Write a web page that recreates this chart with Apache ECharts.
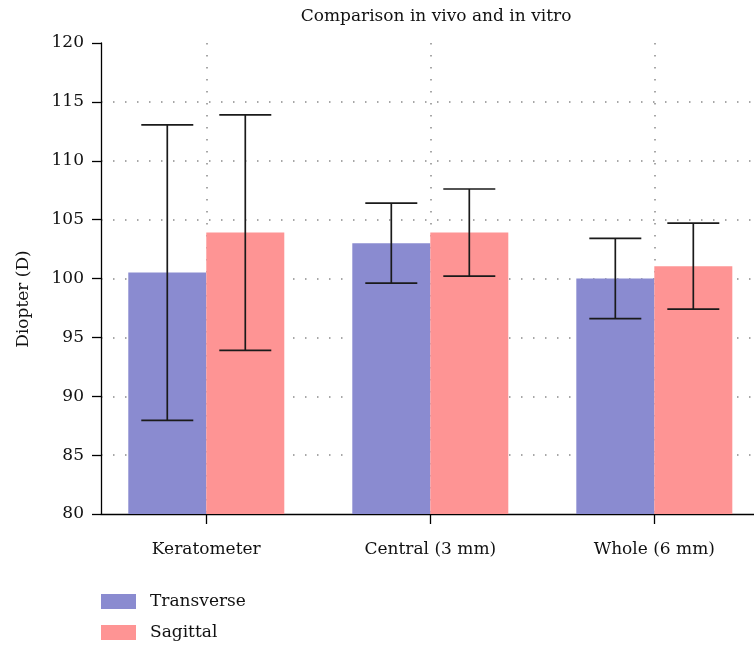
<!DOCTYPE html>
<html>
<head>
<meta charset="utf-8">
<script src="https://cdn.jsdelivr.net/npm/echarts@6/dist/echarts.min.js"></script>
<style>
  html, body { margin: 0; padding: 0; background: #fff; }
  #chart { width: 754px; height: 648px; }
</style>
</head>
<body>
<div id="chart"></div>
<script>
// Refractive power measured three ways, mean ± SD in diopters
const categories = ['Keratometer', 'Central (3 mm)', 'Whole (6 mm)'];
const transverseMean = [100.5, 103.0, 100.0];
const transverseSD = [12.55, 3.4, 3.4];
const sagittalMean = [103.9, 103.9, 101.05];
const sagittalSD = [10.0, 3.7, 3.65];
const yTicks = [80, 85, 90, 95, 100, 105, 110, 115, 120];

const FONT = 'DejaVu Serif';
const FS = 17;
const BAR_W = 78;
const CAP_W = 52;
const BASE = yTicks[0];

// Category i sits at x = i + 1 on a numeric axis
const positions = categories.map((_, i) => i + 1);

function barWithError(side) {
  return function (params, api) {
    const x = api.value(0);
    const mean = api.value(1);
    const sd = api.value(2);
    const base = api.coord([x, BASE]);
    const top = api.coord([x, mean]);
    const hi = api.coord([x, mean + sd]);
    const lo = api.coord([x, mean - sd]);
    const left = side < 0 ? base[0] - BAR_W : base[0];
    const cx = left + BAR_W / 2;
    const err = { stroke: '#1a1a1a', lineWidth: 1.7 };
    return {
      type: 'group',
      children: [
        { type: 'rect', shape: { x: left, y: top[1], width: BAR_W, height: base[1] - top[1] }, style: api.style() },
        { type: 'line', shape: { x1: cx, y1: hi[1], x2: cx, y2: lo[1] }, style: err },
        { type: 'line', shape: { x1: cx - CAP_W / 2, y1: hi[1], x2: cx + CAP_W / 2, y2: hi[1] }, style: err },
        { type: 'line', shape: { x1: cx - CAP_W / 2, y1: lo[1], x2: cx + CAP_W / 2, y2: lo[1] }, style: err }
      ]
    };
  };
}

const dotted = { color: '#8a8a8a', width: 1.5, type: [1.5, 10.5] };

const chart = echarts.init(document.getElementById('chart'), null, { renderer: 'canvas' });
chart.setOption({
  animation: false,
  backgroundColor: '#fff',
  textStyle: { fontFamily: FONT },
  title: {
    text: 'Comparison in vivo and in vitro',
    left: 431, top: 3, textAlign: 'center',
    textStyle: { fontFamily: FONT, fontSize: FS, fontWeight: 'normal', color: '#111' }
  },
  legend: {
    orient: 'vertical', left: 101, top: 593, height: 55, padding: 0,
    itemWidth: 35, itemHeight: 15, itemGap: 14,
    icon: 'rect',
    textStyle: { fontFamily: FONT, fontSize: FS, lineHeight: 17, color: '#111', padding: [0, 0, 0, 9] },
    data: ['Transverse', 'Sagittal']
  },
  grid: { left: 101, right: 0, top: 43, bottom: 134, containLabel: false },
  xAxis: {
    type: 'value', min: 0.53, max: 3.445,
    axisLine: { show: true, lineStyle: { color: '#000', width: 1.3 } },
    axisTick: { show: true, length: 10, customValues: positions, lineStyle: { color: '#000', width: 1.3 } },
    axisLabel: {
      customValues: positions, margin: 27,
      fontFamily: FONT, fontSize: FS, color: '#111',
      formatter: v => categories[Math.round(v) - 1] || ''
    },
    splitLine: { show: true, lineStyle: dotted }
  },
  yAxis: {
    type: 'value', min: yTicks[0], max: yTicks[yTicks.length - 1], interval: 5,
    axisLine: { show: true, lineStyle: { color: '#000', width: 1.3 } },
    axisTick: { show: true, length: 9, lineStyle: { color: '#000', width: 1.3 } },
    axisLabel: { margin: 17, fontFamily: FONT, fontSize: FS, color: '#111' },
    splitLine: { show: true, showMinLine: false, showMaxLine: false, lineStyle: dotted }
  },
  graphic: [{
    type: 'text', x: 24, y: 299, rotation: Math.PI / 2,
    style: { text: 'Diopter (D)', fontFamily: FONT, fontSize: FS, fill: '#111', align: 'center', verticalAlign: 'middle' }
  }],
  series: [
    {
      name: 'Transverse', type: 'custom',
      itemStyle: { color: '#8a8bd0' },
      renderItem: barWithError(-1),
      encode: { x: 0, y: 1 },
      data: positions.map((p, i) => [p, transverseMean[i], transverseSD[i]])
    },
    {
      name: 'Sagittal', type: 'custom',
      itemStyle: { color: '#fe9494' },
      renderItem: barWithError(1),
      encode: { x: 0, y: 1 },
      data: positions.map((p, i) => [p, sagittalMean[i], sagittalSD[i]])
    }
  ]
});
</script>
</body>
</html>
